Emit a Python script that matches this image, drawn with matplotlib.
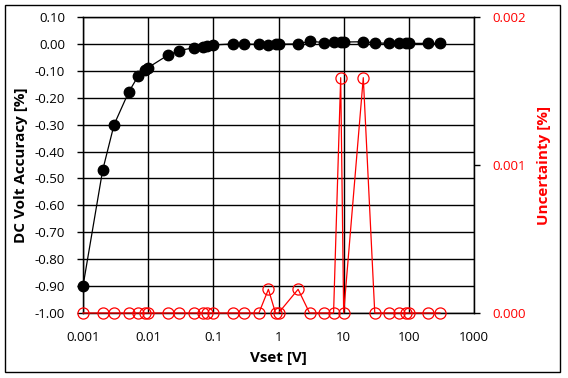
import matplotlib
matplotlib.use("Agg")
import matplotlib.pyplot as plt
from matplotlib.patches import Rectangle
from matplotlib.ticker import FixedLocator, NullLocator

plt.rcParams['font.family'] = ['Open Sans', 'DejaVu Sans']

# Vset points [V]
vset = [0.001, 0.002, 0.003, 0.005, 0.007, 0.009, 0.01, 0.02, 0.03, 0.05, 0.07, 0.08,
        0.1, 0.2, 0.3, 0.5, 0.7, 0.9, 1, 2, 3, 5, 7, 9, 10, 20, 30, 50, 70, 90, 100, 200, 300]

# DC volt accuracy [%]
accuracy = [-0.90, -0.47, -0.30, -0.18, -0.12, -0.097, -0.088, -0.042, -0.025, -0.014, -0.011, -0.008,
            -0.004, 0.0, 0.0, -0.002, -0.003, -0.002, -0.001, 0.0, 0.010, 0.005, 0.008, 0.008, 0.007,
            0.008, 0.004, 0.002, 0.002, 0.002, 0.002, 0.002, 0.002]

# uncertainty [%]
uncertainty = [0, 0, 0, 0, 0, 0, 0, 0, 0, 0, 0, 0,
               0, 0, 0, 0, 0.00016, 0, 0, 0.00016, 0, 0, 0, 0.00159, 0,
               0.00159, 0, 0, 0, 0, 0, 0, 0]

left_ticks = [0.10, 0.00, -0.10, -0.20, -0.30, -0.40, -0.50, -0.60, -0.70, -0.80, -0.90, -1.00]
right_ticks = [0, 0.001, 0.002]
x_ticks = [0.001, 0.01, 0.1, 1, 10, 100, 1000]
x_labels = ['0.001', '0.01', '0.1', '1', '10', '100', '1000']

fig = plt.figure(figsize=(5.68, 3.78), dpi=100)
ax = fig.add_axes([83 / 568, 1 - 313 / 378, (474 - 83) / 568, (313 - 17) / 378])

ax.plot(vset, accuracy, color='black', lw=0.9, marker='o', ms=7.5,
        mfc='black', mec='black', clip_on=False, zorder=3)
ax.set_xscale('log')
ax.set_xlim(0.001, 1000)
ax.set_ylim(-1.0, 0.1)
ax.xaxis.set_major_locator(FixedLocator(x_ticks))
ax.xaxis.set_minor_locator(NullLocator())
ax.set_xticklabels(x_labels)
ax.set_yticks(left_ticks)
ax.set_yticklabels(['%.2f' % v for v in left_ticks])
ax.grid(True, color='black', lw=1.0)
ax.set_axisbelow(True)
ax.tick_params(axis='both', labelsize=9.5, length=4, width=1, colors='black')
ax.tick_params(axis='y', pad=9)
ax.tick_params(axis='x', length=0, pad=13)
for s in ax.spines.values():
    s.set_linewidth(1.0)
ax.set_xlabel('Vset [V]', fontsize=11, fontweight='bold', labelpad=5)
ax.set_ylabel('DC Volt Accuracy [%]', fontsize=11, fontweight='bold', labelpad=5)

ax2 = ax.twinx()
ax2.plot(vset, uncertainty, color='red', lw=0.9, marker='o', ms=8,
         mfc='none', mec='red', mew=0.9, clip_on=False, zorder=3)
ax2.set_ylim(0, 0.002)
ax2.set_yticks(right_ticks)
ax2.set_yticklabels(['%.3f' % v for v in right_ticks])
ax2.tick_params(axis='y', labelsize=9.5, length=4, width=1, colors='black', labelcolor='red', pad=9)
ax2.set_ylabel('Uncertainty [%]', fontsize=11, fontweight='bold', color='red', labelpad=8)

fig.patches.append(Rectangle((5 / 568, 1 - 372 / 378), 555 / 568, 367 / 378,
                             transform=fig.transFigure, fill=False, ec='black', lw=1.0))

fig.savefig('out.png', dpi=100)
